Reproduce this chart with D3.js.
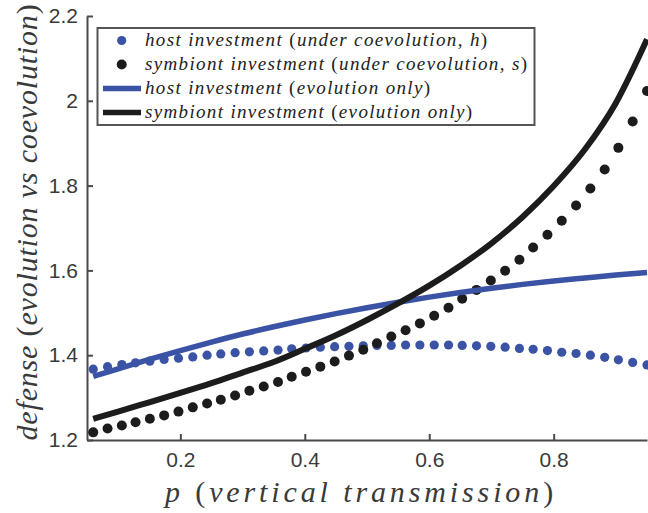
<!DOCTYPE html>
<html>
<head>
<meta charset="utf-8">
<script src="https://cdn.jsdelivr.net/npm/d3@7"></script>
<style>
  html, body { margin: 0; padding: 0; background: #fff; }
  svg { display: block; }
</style>
</head>
<body>
<svg id="chart" width="648" height="513"></svg>
<script>
// p values where the coevolution points were computed
var pGrid = [0.060, 0.083, 0.106, 0.128, 0.151, 0.174, 0.197, 0.220, 0.243, 0.265,
  0.288, 0.311, 0.334, 0.357, 0.379, 0.402, 0.425, 0.448, 0.471, 0.494,
  0.516, 0.539, 0.562, 0.585, 0.608, 0.631, 0.653, 0.676, 0.699, 0.722,
  0.745, 0.767, 0.790, 0.813, 0.836, 0.859, 0.882, 0.904, 0.927, 0.950];

var hostCoevo = [1.367, 1.373, 1.378, 1.382, 1.386, 1.390, 1.393, 1.396, 1.400, 1.403,
  1.406, 1.408, 1.410, 1.412, 1.415, 1.417, 1.419, 1.420, 1.421, 1.422,
  1.423, 1.423, 1.424, 1.424, 1.424, 1.424, 1.423, 1.422, 1.421, 1.419,
  1.416, 1.414, 1.411, 1.407, 1.404, 1.400, 1.395, 1.389, 1.383, 1.377];

var symbCoevo = [1.218, 1.227, 1.234, 1.242, 1.250, 1.258, 1.267, 1.277, 1.286, 1.295,
  1.305, 1.316, 1.326, 1.337, 1.349, 1.361, 1.373, 1.385, 1.399, 1.413,
  1.428, 1.444, 1.459, 1.475, 1.493, 1.512, 1.533, 1.554, 1.576, 1.599,
  1.625, 1.654, 1.684, 1.717, 1.753, 1.793, 1.838, 1.889, 1.951, 2.023];

// evolution-only curves
var pLine = [0.06, 0.10, 0.15, 0.20, 0.25, 0.30, 0.35, 0.40, 0.45, 0.50,
  0.55, 0.60, 0.65, 0.70, 0.75, 0.80, 0.85, 0.90, 0.95];
var hostEvo = [1.350, 1.368, 1.390, 1.411, 1.431, 1.450, 1.467, 1.483, 1.498, 1.512,
  1.525, 1.537, 1.548, 1.558, 1.567, 1.575, 1.582, 1.589, 1.595];
var symbEvo = [1.250, 1.267, 1.289, 1.311, 1.334, 1.359, 1.384, 1.415, 1.447, 1.483,
  1.522, 1.564, 1.611, 1.664, 1.726, 1.799, 1.885, 1.995, 2.145];

var xTicks = [0.2, 0.4, 0.6, 0.8];
var yTicks = [1.2, 1.4, 1.6, 1.8, 2, 2.2];

var legendLabels = [
  "host investment (under coevolution, h)",
  "symbiont investment (under coevolution, s)",
  "host investment (evolution only)",
  "symbiont investment (evolution only)"
];

var blue = "#3a53a4", black = "#1c1c1c", axisColor = "#4a4a4a";
var sans = "'Liberation Sans', Arial, Helvetica, sans-serif";
var serif = "'Liberation Serif'";

var svg = d3.select("#chart");

var x = d3.scaleLinear().domain([0.05, 0.95]).range([87, 647]);
var y = d3.scaleLinear().domain([1.2, 2.2]).range([440, 16]);

// italic text with upright parentheses, like the LaTeX labels
function latexText(t, str) {
  t.style("font-family", serif);
  str.split(/([()])/).forEach(function (part) {
    if (!part) return;
    t.append("tspan")
      .style("font-style", part === "(" || part === ")" ? "normal" : "italic")
      .text(part);
  });
}

// stretch text spacing so it covers a target width
function fitWidth(t, target) {
  var n = t.text().length;
  var w = t.node().getComputedTextLength();
  t.attr("letter-spacing", ((target - w) / (n - 1)).toFixed(2) + "px");
}

// axes
var gx = svg.append("g")
  .attr("transform", "translate(0,440)")
  .call(d3.axisBottom(x).tickValues(xTicks).tickFormat(d3.format("")).tickSize(-6).tickSizeOuter(0).tickPadding(12));
var gy = svg.append("g")
  .attr("transform", "translate(87,0)")
  .call(d3.axisLeft(y).tickValues(yTicks).tickFormat(d3.format("")).tickSize(-6).tickSizeOuter(0).tickPadding(9));

[gx, gy].forEach(function (g) {
  g.select(".domain").attr("stroke", axisColor).attr("stroke-width", 2);
  g.selectAll(".tick line").attr("stroke", axisColor).attr("stroke-width", 2);
  g.selectAll(".tick text")
    .attr("fill", "#3a3a3a")
    .style("font-family", sans)
    .style("font-size", "21px");
});

// series
var dotsHost = pGrid.map(function (p, i) { return [p, hostCoevo[i]]; });
var dotsSymb = pGrid.map(function (p, i) { return [p, symbCoevo[i]]; });

svg.append("g").selectAll("circle")
  .data(dotsHost).join("circle")
  .attr("cx", d => x(d[0])).attr("cy", d => y(d[1]))
  .attr("r", 4.6).attr("fill", blue);

svg.append("g").selectAll("circle")
  .data(dotsSymb).join("circle")
  .attr("cx", d => x(d[0])).attr("cy", d => y(d[1]))
  .attr("r", 5).attr("fill", black);

var line = d3.line()
  .x(d => x(d[0])).y(d => y(d[1]))
  .curve(d3.curveMonotoneX);

svg.append("path")
  .datum(pLine.map((p, i) => [p, hostEvo[i]]))
  .attr("d", line).attr("fill", "none")
  .attr("stroke", blue).attr("stroke-width", 5.5);

svg.append("path")
  .datum(pLine.map((p, i) => [p, symbEvo[i]]))
  .attr("d", line).attr("fill", "none")
  .attr("stroke", black).attr("stroke-width", 6);

// legend
var leg = svg.append("g");
leg.append("rect")
  .attr("x", 97.5).attr("y", 28).attr("width", 437).attr("height", 97)
  .attr("fill", "#fff").attr("stroke", "#555").attr("stroke-width", 2);

var legWidths = [342, 382, 285, 327];
legendLabels.forEach(function (lab, i) {
  var cy = 40.5 + i * 24;
  if (i < 2) {
    leg.append("circle").attr("cx", 121.7).attr("cy", cy).attr("r", i === 0 ? 4.6 : 5)
      .attr("fill", i === 0 ? blue : black);
  } else {
    leg.append("line").attr("x1", 103).attr("x2", 141).attr("y1", cy).attr("y2", cy)
      .attr("stroke", i === 2 ? blue : black).attr("stroke-width", 5.5);
  }
  var t = leg.append("text")
    .attr("x", 145).attr("y", cy + 5.5)
    .attr("fill", "#222")
    .style("font-size", "19px");
  latexText(t, lab);
  fitWidth(t, legWidths[i]);
});

// axis titles
var xt = svg.append("text")
  .attr("x", 361).attr("y", 502)
  .attr("text-anchor", "middle")
  .attr("fill", "#3a3a3a")
  .style("font-size", "30px");
latexText(xt, "p (vertical transmission)");
fitWidth(xt, 388);

var yt = svg.append("text")
  .attr("transform", "translate(37,222) rotate(-90)")
  .attr("text-anchor", "middle")
  .attr("fill", "#3a3a3a")
  .style("font-size", "30px");
latexText(yt, "defense (evolution vs coevolution)");
fitWidth(yt, 436);
</script>
</body>
</html>
